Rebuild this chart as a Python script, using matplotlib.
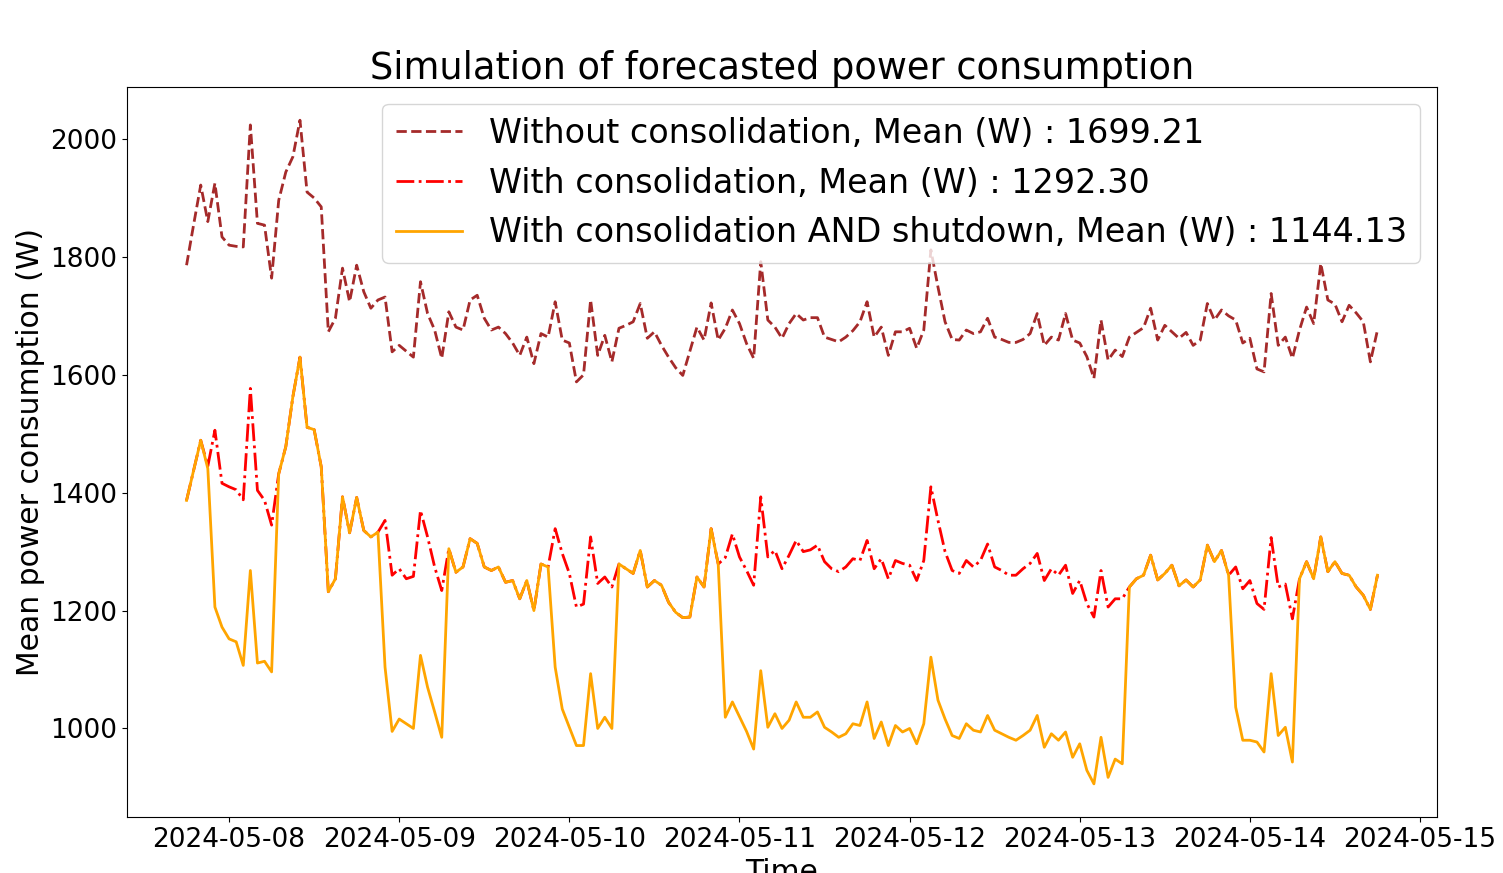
import matplotlib
matplotlib.use("Agg")
import matplotlib.pyplot as plt
import pandas as pd

# hourly forecast, 2024-05-07 18:00 -> 2024-05-14 18:00
start = "2024-05-07 18:00"
n_hours = 169

without_cons = [
    1786, 1855, 1922, 1860, 1925, 1834, 1820, 1818, 1817, 2024,
    1857, 1854, 1764, 1896, 1944, 1970, 2032, 1910, 1900, 1885,
    1673, 1696, 1781, 1724, 1786, 1741, 1713, 1727, 1732, 1639,
    1650, 1640, 1630, 1758, 1704, 1676, 1628, 1707, 1681, 1676,
    1727, 1735, 1696, 1676, 1681, 1670, 1654, 1633, 1664, 1619,
    1670, 1664, 1724, 1659, 1654, 1588, 1600, 1727, 1633, 1667,
    1622, 1679, 1684, 1690, 1721, 1662, 1673, 1650, 1630, 1612,
    1599, 1640, 1681, 1659, 1722, 1659, 1679, 1710, 1687, 1653,
    1628, 1792, 1693, 1681, 1662, 1687, 1704, 1693, 1697, 1697,
    1664, 1660, 1656, 1664, 1675, 1690, 1724, 1664, 1681, 1633,
    1673, 1673, 1679, 1645, 1676, 1812, 1749, 1690, 1660, 1659,
    1676, 1670, 1673, 1696, 1664, 1660, 1655, 1655, 1660, 1670,
    1704, 1650, 1664, 1659, 1704, 1659, 1654, 1631, 1594, 1693,
    1625, 1642, 1631, 1664, 1672, 1680, 1713, 1659, 1684, 1673,
    1662, 1672, 1650, 1659, 1721, 1693, 1710, 1700, 1693, 1654,
    1662, 1610, 1605, 1738, 1650, 1664, 1628, 1676, 1715, 1687,
    1789, 1727, 1720, 1690, 1718, 1705, 1690, 1622, 1676,
]

with_cons = [
    1387, 1438, 1489, 1445, 1506, 1416, 1410, 1405, 1388, 1577,
    1404, 1387, 1345, 1432, 1478, 1563, 1630, 1511, 1507, 1444,
    1232, 1254, 1393, 1332, 1392, 1336, 1325, 1333, 1353, 1260,
    1271, 1254, 1258, 1370, 1325, 1274, 1234, 1305, 1265, 1274,
    1322, 1314, 1274, 1268, 1274, 1248, 1251, 1220, 1251, 1200,
    1279, 1274, 1339, 1297, 1263, 1206, 1211, 1325, 1246, 1257,
    1240, 1279, 1271, 1263, 1302, 1240, 1251, 1243, 1214, 1197,
    1188, 1189, 1257, 1240, 1339, 1279, 1290, 1330, 1291, 1268,
    1243, 1393, 1291, 1302, 1271, 1294, 1319, 1300, 1303, 1311,
    1283, 1271, 1266, 1274, 1288, 1285, 1319, 1271, 1288, 1254,
    1285, 1280, 1277, 1251, 1285, 1410, 1353, 1300, 1268, 1263,
    1285, 1274, 1285, 1313, 1274, 1268, 1260, 1260, 1271, 1280,
    1297, 1251, 1271, 1260, 1277, 1229, 1251, 1212, 1189, 1268,
    1206, 1220, 1220, 1240, 1254, 1260, 1294, 1252, 1263, 1277,
    1242, 1252, 1240, 1252, 1311, 1283, 1302, 1260, 1274, 1237,
    1251, 1212, 1202, 1324, 1240, 1245, 1186, 1254, 1283, 1254,
    1325, 1266, 1283, 1263, 1260, 1240, 1226, 1202, 1260,
]

with_cons_shutdown = [
    1387, 1438, 1489, 1441, 1206, 1172, 1152, 1147, 1107, 1268,
    1111, 1114, 1096, 1432, 1478, 1563, 1630, 1511, 1507, 1444,
    1232, 1254, 1393, 1332, 1392, 1336, 1325, 1333, 1104, 995,
    1016, 1008, 1000, 1124, 1070, 1028, 985, 1305, 1265, 1274,
    1322, 1314, 1274, 1268, 1274, 1248, 1251, 1220, 1251, 1200,
    1279, 1274, 1104, 1033, 1002, 971, 971, 1093, 1000, 1019,
    1000, 1279, 1271, 1263, 1302, 1240, 1251, 1243, 1214, 1197,
    1188, 1189, 1257, 1240, 1339, 1279, 1019, 1045, 1020, 995,
    965, 1098, 1002, 1025, 1000, 1014, 1045, 1019, 1019, 1028,
    1002, 994, 985, 991, 1008, 1005, 1045, 983, 1011, 971,
    1005, 994, 1000, 974, 1008, 1121, 1048, 1016, 988, 983,
    1008, 997, 994, 1022, 997, 991, 985, 980, 988, 997,
    1022, 968, 991, 980, 994, 951, 974, 929, 906, 985,
    917, 948, 940, 1240, 1254, 1260, 1294, 1252, 1263, 1277,
    1242, 1252, 1240, 1252, 1311, 1283, 1302, 1260, 1036, 980,
    980, 977, 960, 1093, 988, 1002, 943, 1254, 1283, 1254,
    1325, 1266, 1283, 1263, 1260, 1240, 1226, 1202, 1260,
]

labels = [
    "Without consolidation, Mean (W) : 1699.21",
    "With consolidation, Mean (W) : 1292.30",
    "With consolidation AND shutdown, Mean (W) : 1144.13",
]

times = pd.date_range(start, periods=n_hours, freq="h")

fig = plt.figure(figsize=(15.03, 8.73), dpi=100)
ax = fig.add_axes([0.0845, 0.0641, 0.8716, 0.8362])

ax.plot(times, without_cons, color="brown", linestyle="--", linewidth=2, label=labels[0])
ax.plot(times, with_cons, color="red", linestyle="-.", linewidth=2, label=labels[1])
ax.plot(times, with_cons_shutdown, color="orange", linestyle="-", linewidth=2, label=labels[2])

ax.set_title("Simulation of forecasted power consumption", fontsize=26.5)
ax.set_xlabel("Time", fontsize=21.5)
ax.set_ylabel("Mean power consumption (W)", fontsize=21.5)
ax.tick_params(labelsize=19)
ax.legend(loc="upper right", fontsize=24)

fig.savefig("out.png", dpi=100)
